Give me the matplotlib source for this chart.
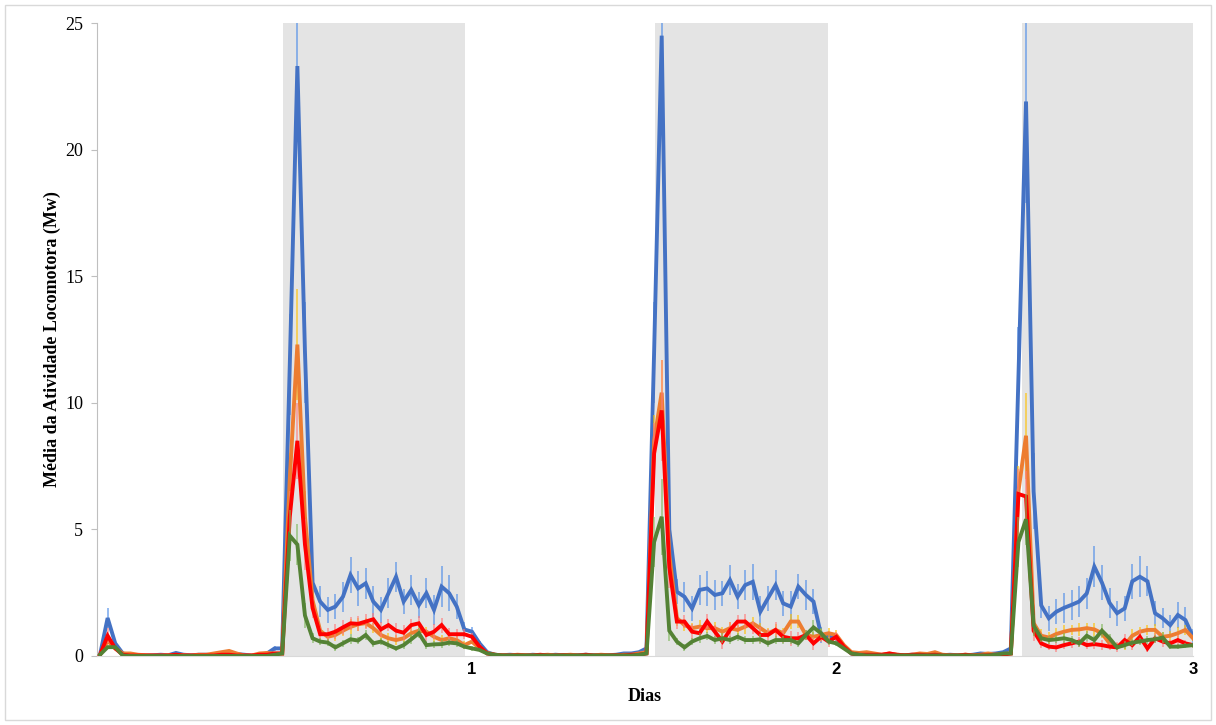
import matplotlib
matplotlib.use("Agg")
import matplotlib.pyplot as plt
from matplotlib.patches import Rectangle
import numpy as np

# valores medios por intervalo (30 min), 145 pontos
azul = [0.05, 1.5, 0.5, 0.1, 0.05, 0.03, 0.02, 0.03, 0.05, 0.03, 0.12, 0.05, 0.03, 0.05, 0.05, 0.03, 0.12, 0.05, 0.08, 0.05, 0.02, 0.05, 0.1, 0.3,
        0.3, 11.5, 23.3, 12.0, 2.9, 2.15, 1.82, 1.95, 2.34, 3.2, 2.67, 2.87, 2.15, 1.82, 2.48, 3.13, 2.15, 2.61, 2.01, 2.48, 1.82, 2.74, 2.48, 1.95, 1.05, 0.96, 0.5,
        0.15, 0.05, 0.03, 0.05, 0.03, 0.02, 0.05, 0.03, 0.02, 0.05, 0.03, 0.02, 0.03, 0.05, 0.03, 0.02, 0.03, 0.05, 0.1, 0.1, 0.15, 0.3,
        12.0, 24.5, 5.0,
        2.54, 2.34, 1.88, 2.61, 2.67, 2.41, 2.48, 3.0, 2.34, 2.8, 2.93, 1.75, 2.28, 2.8, 2.08, 1.95, 2.74, 2.41, 2.15, 0.83, 0.76, 0.7, 0.37,
        0.1, 0.05, 0.03, 0.05, 0.03, 0.05, 0.02, 0.03, 0.05, 0.03, 0.05, 0.02, 0.03, 0.05, 0.03, 0.02, 0.05, 0.1, 0.08, 0.1, 0.15, 0.3,
        11.0, 21.9, 6.5,
        2.0, 1.49, 1.75, 1.9, 2.02, 2.15, 2.47, 3.53, 2.9, 2.1, 1.69, 1.88, 2.95, 3.13, 2.95, 1.69, 1.49, 1.22, 1.62, 1.42, 0.76]

laranja = [0.05, 0.6, 0.3, 0.1, 0.1, 0.05, 0.03, 0.02, 0.02, 0.03, 0.05, 0.03, 0.02, 0.05, 0.05, 0.1, 0.15, 0.2, 0.1, 0.02, 0.02, 0.1, 0.12, 0.1,
           0.1, 7.0, 12.3, 5.5, 2.2, 1.0, 0.76, 0.83, 1.0, 1.15, 1.25, 1.3, 1.1, 0.83, 0.70, 0.63, 0.70, 0.9, 1.0, 0.96, 0.76, 0.63, 0.70, 0.63, 0.43, 0.57, 0.3,
           0.12, 0.05, 0.03, 0.02, 0.05, 0.03, 0.02, 0.03, 0.05, 0.02, 0.03, 0.05, 0.02, 0.03, 0.02, 0.05, 0.03, 0.02, 0.05, 0.05, 0.1, 0.15,
           8.5, 10.4, 4.0,
           1.5, 1.22, 1.1, 1.16, 1.1, 1.1, 0.96, 1.1, 1.03, 1.16, 1.29, 1.1, 0.9, 1.03, 0.9, 1.36, 1.36, 0.83, 0.76, 0.83, 0.9, 0.83, 0.43,
           0.15, 0.12, 0.15, 0.1, 0.05, 0.1, 0.05, 0.03, 0.05, 0.1, 0.08, 0.15, 0.05, 0.03, 0.02, 0.05, 0.03, 0.05, 0.1, 0.05, 0.08, 0.1,
           6.5, 8.7, 1.3,
           0.8, 0.73, 0.87, 0.96, 1.03, 1.05, 1.1, 1.05, 0.9, 0.5, 0.37, 0.43, 0.8, 0.96, 1.03, 1.03, 0.76, 0.8, 0.9, 1.03, 0.7]

vermelho = [0.05, 0.8, 0.3, 0.05, 0.02, 0.02, 0.02, 0.02, 0.02, 0.02, 0.05, 0.02, 0.02, 0.02, 0.02, 0.02, 0.05, 0.05, 0.02, 0.02, 0.02, 0.05, 0.05, 0.1,
            0.1, 5.5, 8.5, 4.4, 1.9, 0.86, 0.86, 0.96, 1.13, 1.29, 1.27, 1.36, 1.45, 1.05, 1.22, 1.0, 0.92, 1.22, 1.29, 0.83, 0.96, 1.22, 0.86, 0.86, 0.86, 0.76, 0.37,
            0.1, 0.05, 0.02, 0.02, 0.03, 0.02, 0.02, 0.05, 0.02, 0.02, 0.03, 0.02, 0.02, 0.05, 0.02, 0.02, 0.02, 0.03, 0.02, 0.05, 0.05, 0.1,
            8.0, 9.7, 3.5,
            1.36, 1.36, 0.96, 0.9, 1.36, 0.96, 0.57, 1.03, 1.36, 1.36, 1.1, 0.83, 0.83, 1.03, 0.76, 0.7, 0.7, 0.83, 0.5, 0.76, 0.57, 0.76, 0.37,
            0.1, 0.05, 0.05, 0.05, 0.05, 0.1, 0.05, 0.03, 0.05, 0.05, 0.03, 0.05, 0.02, 0.02, 0.02, 0.05, 0.02, 0.02, 0.03, 0.05, 0.05, 0.1,
            6.4, 6.3, 1.0,
            0.5, 0.37, 0.34, 0.43, 0.5, 0.57, 0.43, 0.47, 0.43, 0.37, 0.34, 0.63, 0.43, 0.76, 0.30, 0.70, 0.57, 0.5, 0.63, 0.5, 0.43]

verde = [0.05, 0.35, 0.35, 0.02, 0.0, 0.0, 0.0, 0.0, 0.0, 0.0, 0.0, 0.0, 0.0, 0.0, 0.0, 0.0, 0.0, 0.0, 0.0, 0.0, 0.0, 0.0, 0.0, 0.05,
         0.1, 4.75, 4.4, 1.6, 0.7, 0.57, 0.53, 0.34, 0.5, 0.66, 0.61, 0.83, 0.5, 0.57, 0.43, 0.30, 0.43, 0.66, 0.9, 0.43, 0.46, 0.47, 0.53, 0.5, 0.37, 0.30, 0.24,
         0.1, 0.05, 0.02, 0.02, 0.02, 0.02, 0.02, 0.02, 0.02, 0.02, 0.02, 0.02, 0.02, 0.02, 0.02, 0.02, 0.02, 0.02, 0.02, 0.02, 0.05, 0.1,
         4.5, 5.5, 1.0,
         0.57, 0.34, 0.57, 0.70, 0.79, 0.63, 0.70, 0.63, 0.76, 0.63, 0.63, 0.66, 0.50, 0.63, 0.63, 0.63, 0.50, 0.83, 1.13, 0.9, 0.57, 0.50, 0.30,
         0.1, 0.05, 0.02, 0.02, 0.02, 0.02, 0.02, 0.02, 0.02, 0.02, 0.02, 0.02, 0.02, 0.02, 0.02, 0.02, 0.02, 0.02, 0.02, 0.05, 0.1, 0.1,
         4.5, 5.4, 1.2,
         0.70, 0.63, 0.66, 0.70, 0.63, 0.50, 0.8, 0.63, 1.0, 0.70, 0.34, 0.43, 0.53, 0.57, 0.63, 0.66, 0.73, 0.37, 0.37, 0.40, 0.43]

# erros (barras verticais)
azul_err = ([0.0, 0.4, 0.1] + [0.0] * 20 + [0.1] +
            [0.1, 2.0, 3.0, 2.0, 0.6, 0.6, 0.5, 0.5, 0.6, 0.7, 0.7, 0.6, 0.6, 0.5, 0.6, 0.6, 0.5, 0.6, 0.5, 0.6, 0.6, 0.8, 0.7, 0.5, 0.3, 0.2, 0.1] +
            [0.0] * 21 + [0.1] +
            [2.0, 1.5, 1.0] +
            [0.5, 0.6, 0.5, 0.6, 0.7, 0.6, 0.5, 0.6, 0.5, 0.6, 0.7, 0.6, 0.5, 0.6, 0.5, 0.6, 0.5, 0.6, 0.5, 0.3, 0.2, 0.2, 0.1] +
            [0.0] * 21 + [0.1] +
            [2.0, 4.0, 1.5] +
            [0.5, 0.5, 0.5, 0.6, 0.6, 0.6, 0.6, 0.8, 0.7, 0.6, 0.5, 0.5, 0.7, 0.8, 0.6, 0.5, 0.4, 0.4, 0.5, 0.5, 0.3])
laranja_err = ([0.0] * 24 +
               [0.05, 1.0, 2.2, 1.0, 0.3, 0.2, 0.2, 0.25, 0.2, 0.3, 0.25, 0.2, 0.2, 0.25, 0.2, 0.2, 0.3, 0.2, 0.25, 0.2, 0.2, 0.2, 0.25, 0.2, 0.15, 0.1, 0.1] +
               [0.0] * 22 +
               [1.0, 1.3, 0.8] +
               [0.3, 0.25, 0.2, 0.25, 0.2, 0.25, 0.2, 0.25, 0.2, 0.3, 0.25, 0.2, 0.2, 0.25, 0.2, 0.3, 0.25, 0.2, 0.2, 0.25, 0.2, 0.2, 0.1] +
               [0.0] * 22 +
               [1.0, 1.7, 0.5] +
               [0.25, 0.2, 0.25, 0.25, 0.2, 0.25, 0.2, 0.25, 0.2, 0.2, 0.15, 0.2, 0.25, 0.2, 0.2, 0.25, 0.2, 0.2, 0.25, 0.2, 0.1])
vermelho_err = ([0.0, 0.3] + [0.0] * 22 +
                [0.05, 1.0, 1.5, 1.0, 0.4, 0.3, 0.25, 0.3, 0.3, 0.25, 0.3, 0.3, 0.25, 0.3, 0.25, 0.3, 0.3, 0.25, 0.3, 0.25, 0.3, 0.3, 0.25, 0.2, 0.2, 0.15, 0.1] +
                [0.0] * 22 +
                [1.2, 2.0, 0.8] +
                [0.3, 0.25, 0.3, 0.25, 0.3, 0.25, 0.3, 0.3, 0.25, 0.3, 0.25, 0.3, 0.25, 0.3, 0.25, 0.3, 0.25, 0.2, 0.25, 0.2, 0.2, 0.2, 0.1] +
                [0.0] * 22 +
                [1.0, 1.0, 0.4] +
                [0.2, 0.15, 0.2, 0.15, 0.2, 0.2, 0.15, 0.2, 0.2, 0.15, 0.2, 0.25, 0.2, 0.25, 0.15, 0.2, 0.2, 0.15, 0.2, 0.15, 0.1])
verde_err = ([0.0] * 24 +
             [0.05, 1.0, 0.8, 0.5, 0.2, 0.15, 0.15, 0.15, 0.15, 0.2, 0.15, 0.2, 0.15, 0.15, 0.15, 0.1, 0.15, 0.2, 0.2, 0.15, 0.15, 0.15, 0.15, 0.15, 0.1, 0.1, 0.05] +
             [0.0] * 22 +
             [1.0, 1.5, 0.4] +
             [0.15, 0.15, 0.15, 0.2, 0.15, 0.15, 0.2, 0.15, 0.15, 0.15, 0.15, 0.2, 0.15, 0.15, 0.15, 0.15, 0.15, 0.2, 0.3, 0.2, 0.15, 0.1, 0.05] +
             [0.0] * 22 +
             [1.0, 1.0, 0.4] +
             [0.15, 0.15, 0.15, 0.2, 0.15, 0.15, 0.2, 0.15, 0.25, 0.15, 0.1, 0.15, 0.15, 0.15, 0.15, 0.15, 0.2, 0.1, 0.1, 0.1, 0.1])

# periodos escuros (em indice de intervalo)
noite_ini = [24.1, 73.1, 121.5]
noite_fim = [48.1, 95.9, 144.0]

# marcas do eixo x
dias_pos = [49, 97, 144]
dias_rot = ['1', '2', '3']

x = np.arange(len(azul))

fig = plt.figure(figsize=(12.16, 7.25), dpi=100)
ax = fig.add_axes([97 / 1216, 1 - 656 / 725, (1193 - 97) / 1216, (656 - 23) / 725])

# sombreado das noites
for a, b in zip(noite_ini, noite_fim):
    ax.axvspan(a, b, color='#e4e4e4', lw=0, zorder=0)

series = [
    (azul, azul_err, '#4472C4', '#4a8ae8'),
    (laranja, laranja_err, '#ED7D31', '#FFC000'),
    (vermelho, vermelho_err, '#FF0000', '#ff7a7a'),
    (verde, verde_err, '#548235', '#7fb85a'),
]
for k, (y, e, cor, cor_err) in enumerate(series):
    ax.errorbar(x, y, yerr=e, fmt='none', ecolor=cor_err, elinewidth=1.1, alpha=0.75,
                capsize=0, zorder=2 + k)
    ax.plot(x, y, color=cor, lw=2.8, solid_joinstyle='miter', zorder=3 + k)

ax.set_xlim(-0.4, 144)
ax.set_ylim(0, 25)
ax.set_yticks([0, 5, 10, 15, 20, 25])
ax.set_xticks(dias_pos)
ax.set_xticklabels(dias_rot, fontfamily='Liberation Sans', fontweight='bold', fontsize=12)
for t in ax.get_yticklabels():
    t.set_fontfamily('Liberation Serif')
    t.set_fontsize(13)
ax.tick_params(axis='x', length=0, pad=4)
ax.tick_params(axis='y', length=4, color='#bfbfbf', pad=6)

for s in ['top', 'right']:
    ax.spines[s].set_visible(False)
ax.spines['left'].set_color('#bfbfbf')
ax.spines['bottom'].set_color('#d9d9d9')

ax.set_ylabel('Média da Atividade Locomotora (Mw)', fontfamily='Liberation Serif',
              fontweight='bold', fontsize=13, labelpad=3)
ax.set_xlabel('Dias', fontfamily='Liberation Serif', fontweight='bold', fontsize=13, labelpad=8)

# moldura da figura
fig.patches.append(Rectangle((5 / 1216, 5 / 725), 1206 / 1216, 715 / 725, transform=fig.transFigure,
                             fill=False, edgecolor='#d9d9d9', lw=1))

fig.savefig('out.png', dpi=100)
